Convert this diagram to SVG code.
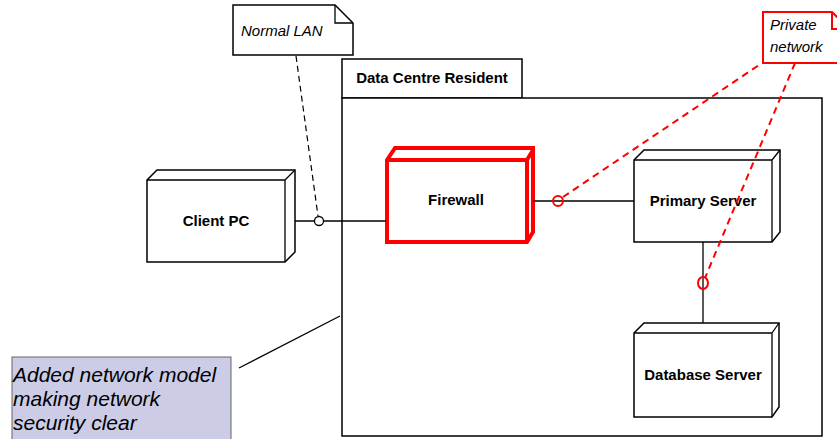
<svg xmlns="http://www.w3.org/2000/svg" width="837" height="439" viewBox="0 0 837 439">
<style>
text{font-family:"Liberation Sans",Arial,sans-serif;fill:#000}
.lbl{font-size:15px;font-weight:bold;text-anchor:middle}
.it{font-style:italic;font-size:15px}
.big{font-style:italic;font-size:21px}
.node{fill:#fff;stroke:#000;stroke-width:1.5}
.fw{fill:#fff;stroke:#f00;stroke-width:4;stroke-linejoin:miter}
.ln{stroke:#000;stroke-width:1.3;fill:none}
.dash{stroke:#000;stroke-width:1.2;fill:none;stroke-dasharray:6,4}
.rdash{stroke:#f00;stroke-width:2;fill:none;stroke-dasharray:7,5}
</style>
<rect width="837" height="439" fill="#fff"/>
<g id="package">
<rect x="342" y="59" width="180" height="39" class="node"/>
<rect x="342" y="98" width="480" height="338" class="node"/>
<text x="432" y="83" class="lbl">Data Centre Resident</text>
</g>
<g id="note-lan">
<path d="M233,5 H335 L353,23 V55 H233 Z" class="node" stroke-width="1.2"/>
<path d="M335,5 V23 H353" class="ln" stroke-width="1.2"/>
<text x="241" y="36" class="it">Normal LAN</text>
</g>
<g id="note-private">
<path d="M763,12 H832 L850,30 V63 H763 Z" fill="#fff" stroke="#f00" stroke-width="2"/>
<path d="M832,12 V29 H850" fill="none" stroke="#f00" stroke-width="2"/>
<text x="770" y="30" class="it">Private</text>
<text x="770" y="52" class="it">network</text>
</g>
<g id="client-pc">
<path d="M147,180 L157,170 H295 V252 L285,262 H147 Z" class="node"/>
<path d="M147,180 H285 V262 M285,180 L295,170" class="ln" stroke-width="1.5"/>
<text x="216" y="226" class="lbl">Client PC</text>
</g>
<g id="firewall">
<path d="M387,160 L395,148 H533 V232 L527,242 H387 Z" class="fw"/>
<path d="M387,160 H527 V242 M527,160 L533,150" fill="none" stroke="#f00" stroke-width="4"/>
<text x="456" y="205" class="lbl">Firewall</text>
</g>
<g id="primary-server">
<path d="M634,160 L644,150 H780 V232 L772,242 H634 Z" class="node"/>
<path d="M634,160 H772 V242 M772,160 L780,150" class="ln" stroke-width="1.5"/>
<text x="703" y="206" class="lbl">Primary Server</text>
</g>
<g id="database-server">
<path d="M634,333 L644,323 H779 V407 L772,417 H634 Z" class="node"/>
<path d="M634,333 H772 V417 M772,333 L779,323" class="ln" stroke-width="1.5"/>
<text x="703" y="380" class="lbl">Database Server</text>
</g>
<g id="connectors">
<line x1="295" y1="221" x2="386" y2="221" class="ln"/>
<line x1="533" y1="201" x2="634" y2="201" class="ln"/>
<line x1="703" y1="242" x2="703" y2="323" class="ln"/>
<line x1="296" y1="56" x2="318" y2="216" class="dash"/>
<line x1="239" y1="368" x2="340" y2="316" class="ln" stroke-width="1"/>
<line x1="563" y1="197" x2="762" y2="63" class="rdash"/>
<line x1="795" y1="63" x2="705" y2="278" class="rdash"/>
<circle cx="319" cy="221" r="4.5" fill="#fff" stroke="#000" stroke-width="1.3"/>
<circle cx="558" cy="201" r="5" fill="none" stroke="#f00" stroke-width="2"/>
<ellipse cx="703" cy="283" rx="5" ry="6" fill="none" stroke="#f00" stroke-width="2"/>
</g>
<g id="annotation">
<rect x="12" y="357" width="219" height="90" fill="#ccccE6" stroke="#666" stroke-width="1"/>
<text x="13" y="382" class="big">Added network model</text>
<text x="13" y="406" class="big">making network</text>
<text x="13" y="430" class="big">security clear</text>
</g>
</svg>
